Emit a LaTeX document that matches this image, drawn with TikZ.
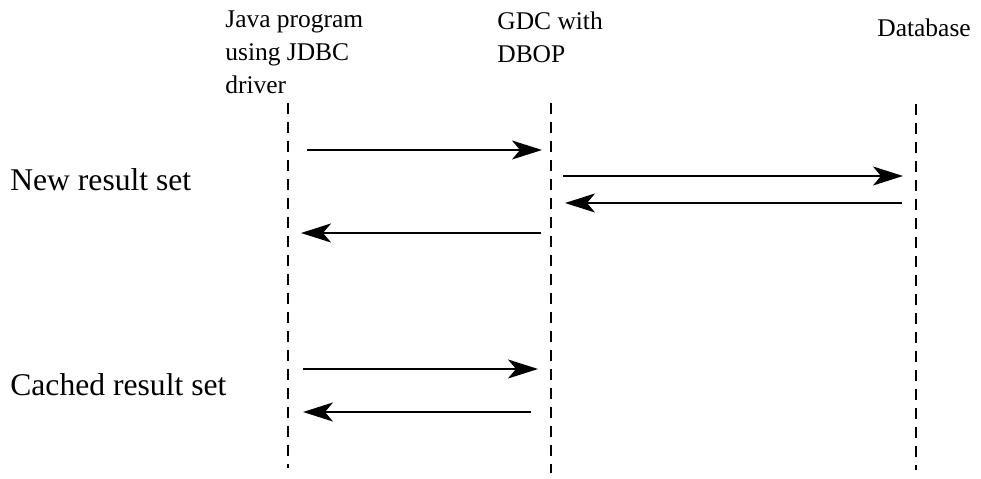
\documentclass[tikz,border=0pt]{standalone}
\usepackage{fontspec}
\setmainfont{Liberation Serif}
\usetikzlibrary{arrows.meta}

\begin{document}
\begin{tikzpicture}[x=0.02cm, y=-0.02cm,
  actor/.style={
    font=\fontsize{14.5}{19}\selectfont,
    align=left,
    inner sep=0pt,
    anchor=base west
  },
  phase/.style={
    font=\fontsize{18}{21}\selectfont,
    inner sep=0pt,
    anchor=base west
  },
  lifeline/.style={line width=1.1pt, dash pattern=on 0.22cm off 0.16cm},
  msg/.style={-{Stealth[length=0.6cm, width=0.38cm, inset=0.16cm]}, line width=1.1pt}
  ]
\useasboundingbox (0,0) rectangle (981,479);

% Participants (anchored at the baseline of the last line)
\node[actor] (java) at (225,94) {Java program\\using JDBC\\driver};
\node[actor] (gdc) at (497,63) {GDC with\\DBOP};
\node[actor] (db) at (877,37) {Database};

% Phases
\node[phase] (newrs) at (10,191) {New result set};
\node[phase] (cachedrs) at (10,396) {Cached result set};

% Lifelines
\coordinate (java top) at (288,103);
\coordinate (java bot) at (288,468);
\coordinate (gdc top) at (551,103);
\coordinate (gdc bot) at (551,473);
\coordinate (db top) at (916,104);
\coordinate (db bot) at (916,470);
\draw[lifeline] (java top) -- (java bot);
\draw[lifeline] (gdc top) -- (gdc bot);
\draw[lifeline] (db top) -- (db bot);

% Messages, new result set
\coordinate (m1a) at (307,150);  \coordinate (m1b) at (542,150);
\coordinate (m2a) at (563,176);  \coordinate (m2b) at (903,176);
\coordinate (m3a) at (902,203);  \coordinate (m3b) at (565,203);
\coordinate (m4a) at (541,233);  \coordinate (m4b) at (301,233);
\draw[msg] (m1a) -- (m1b);
\draw[msg] (m2a) -- (m2b);
\draw[msg] (m3a) -- (m3b);
\draw[msg] (m4a) -- (m4b);

% Messages, cached result set
\coordinate (m5a) at (303,369);  \coordinate (m5b) at (538,369);
\coordinate (m6a) at (531,412);  \coordinate (m6b) at (303,412);
\draw[msg] (m5a) -- (m5b);
\draw[msg] (m6a) -- (m6b);

\end{tikzpicture}
\end{document}
